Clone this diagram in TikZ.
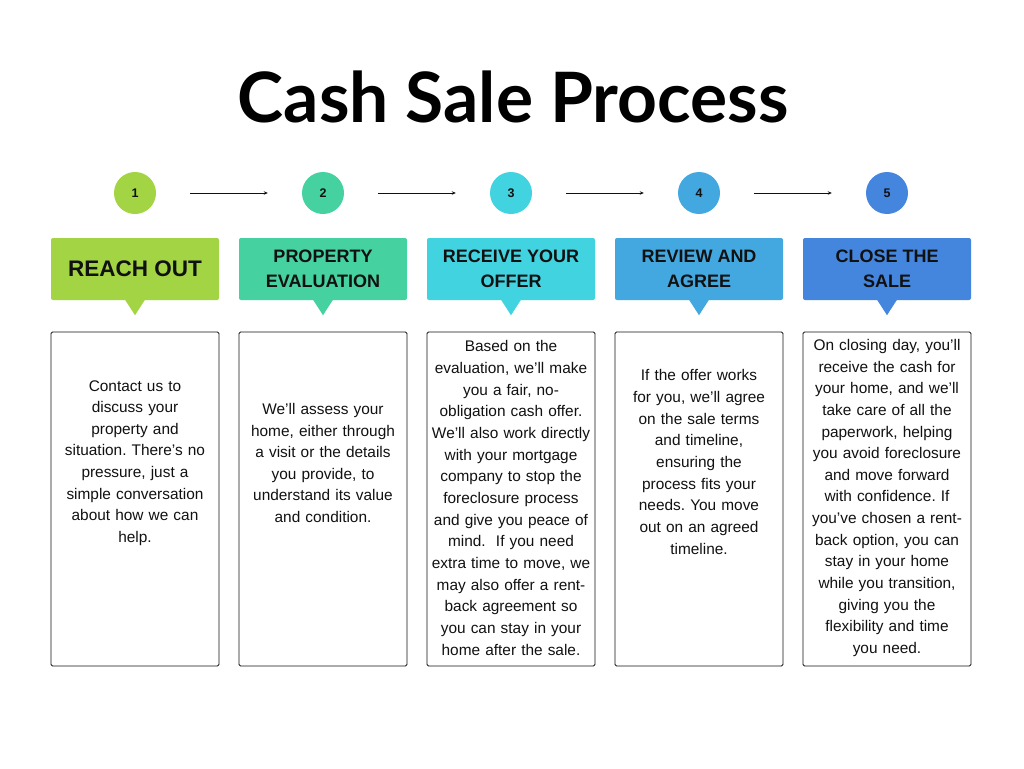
\documentclass[tikz,border=0pt]{standalone}
\usepackage{fontspec}
\setmainfont{Liberation Sans}
\newfontfamily\titlefont{Lato}
\newfontfamily\hdrfont{Liberation Sans}
\usetikzlibrary{arrows.meta}
\definecolor{cA}{HTML}{A2D443}
\definecolor{cB}{HTML}{45D1A0}
\definecolor{cC}{HTML}{42D3E0}
\definecolor{cD}{HTML}{43A7E0}
\definecolor{cE}{HTML}{4485DD}
\definecolor{ink}{HTML}{111111}
\begin{document}
\frenchspacing
\begin{tikzpicture}[x=1pt,y=-1pt,
  titlestyle/.style={font=\titlefont\bfseries\fontsize{69.5}{80}\selectfont, text=black, inner sep=0pt},
  numcircle/.style={circle, minimum size=42pt, inner sep=0pt, font=\hdrfont\bfseries\fontsize{12.5}{14}\selectfont, text=ink},
  hdrbox/.style={rectangle, rounded corners=2pt, minimum width=168pt, minimum height=62pt, inner sep=0pt, align=center, font=\hdrfont\bfseries\fontsize{18}{25}\selectfont, text=ink},
  bodybox/.style={rectangle, draw=ink, line width=0.9pt, rounded corners=1.5pt, minimum width=168pt, minimum height=334pt, inner sep=0pt},
  bodytext/.style={align=center, text width=166pt, inner sep=0pt, font=\fontsize{15.4}{21.65}\selectfont, text=ink},
  flow/.style={draw=ink, line width=0.8pt, -{Stealth[length=4pt,width=3.5pt]}, shorten >=34pt, shorten <=34pt}
]
\useasboundingbox (0,0) rectangle (1024,768);
\fill[white] (0,0) rectangle (1024,768);

\node[titlestyle, anchor=base] (title) at (513,122) {Cash Sale Process};

% step circles
\node[numcircle, fill=cA] (n1) at (135,193) {1};
\node[numcircle, fill=cB] (n2) at (323,193) {2};
\node[numcircle, fill=cC] (n3) at (511,193) {3};
\node[numcircle, fill=cD] (n4) at (699,193) {4};
\node[numcircle, fill=cE] (n5) at (887,193) {5};

\draw[flow] (n1) -- (n2);
\draw[flow] (n2) -- (n3);
\draw[flow] (n3) -- (n4);
\draw[flow] (n4) -- (n5);

% headers
\node[hdrbox, fill=cA, font=\hdrfont\bfseries\fontsize{22.5}{25}\selectfont] (h1) at (135,269) {REACH OUT};
\node[hdrbox, fill=cB] (h2) at (323,269) {PROPERTY\\EVALUATION};
\node[hdrbox, fill=cC] (h3) at (511,269) {RECEIVE YOUR\\OFFER};
\node[hdrbox, fill=cD] (h4) at (699,269) {REVIEW AND\\AGREE};
\node[hdrbox, fill=cE] (h5) at (887,269) {CLOSE THE\\SALE};

\fill[cA] (h1.south) ++(-10,-0.5) -- ++(20,0) -- ++(-10,15.5) -- cycle;
\fill[cB] (h2.south) ++(-10,-0.5) -- ++(20,0) -- ++(-10,15.5) -- cycle;
\fill[cC] (h3.south) ++(-10,-0.5) -- ++(20,0) -- ++(-10,15.5) -- cycle;
\fill[cD] (h4.south) ++(-10,-0.5) -- ++(20,0) -- ++(-10,15.5) -- cycle;
\fill[cE] (h5.south) ++(-10,-0.5) -- ++(20,0) -- ++(-10,15.5) -- cycle;

% body boxes
\node[bodybox] (b1) at (135,499) {};
\node[bodybox] (b2) at (323,499) {};
\node[bodybox] (b3) at (511,499) {};
\node[bodybox] (b4) at (699,499) {};
\node[bodybox] (b5) at (887,499) {};

\node[bodytext] (t1) at (135,463) {Contact us to\\discuss your\\property and\\situation. There’s no\\pressure, just a\\simple conversation\\about how we can\\help.};
\node[bodytext] (t2) at (323,463) {We’ll assess your\\home, either through\\a visit or the details\\you provide, to\\understand its value\\and condition.};
\node[bodytext] (t3) at (511,498) {Based on the\\evaluation, we’ll make\\you a fair, no-\\obligation cash offer.\\We’ll also work directly\\with your mortgage\\company to stop the\\foreclosure process\\and give you peace of\\mind.\ \ If you need\\extra time to move, we\\may also offer a rent-\\back agreement so\\you can stay in your\\home after the sale.};
\node[bodytext] (t4) at (699,462) {If the offer works\\for you, we’ll agree\\on the sale terms\\and timeline,\\ensuring the\\process fits your\\needs. You move\\out on an agreed\\timeline.};
\node[bodytext] (t5) at (887,498) {On closing day, you’ll\\receive the cash for\\your home, and we’ll\\take care of all the\\paperwork, helping\\you avoid foreclosure\\and move forward\\with confidence. If\\you’ve chosen a rent-\\back option, you can\\stay in your home\\while you transition,\\giving you the\\flexibility and time\\you need.};
\end{tikzpicture}
\end{document}
